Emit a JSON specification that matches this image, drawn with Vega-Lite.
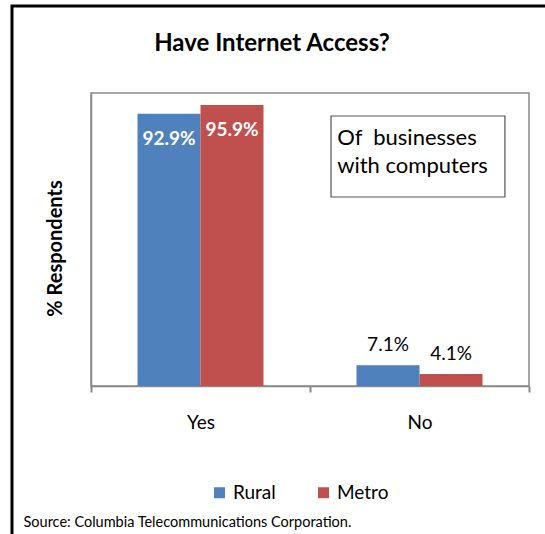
{
  "$schema": "https://vega.github.io/schema/vega-lite/v6.json",
  "autosize": {"type": "none"},
  "padding": {"left": 91, "top": 93, "right": 16, "bottom": 148},
  "width": 438,
  "height": 293,
  "background": "white",
  "config": {
    "font": "Lato",
    "view": {"stroke": "#898989", "strokeWidth": 1.5},
    "axis": {"grid": false}
  },
  "title": {
    "text": "Have Internet Access?",
    "fontSize": 24,
    "fontWeight": "bold",
    "font": "Lato",
    "color": "black",
    "anchor": "middle",
    "baseline": "alphabetic",
    "dx": -38,
    "offset": -71
  },
  "datasets": {
    "bars": [
      {"answer": "Yes", "area": "Rural", "share": 0.929},
      {"answer": "Yes", "area": "Metro", "share": 0.959},
      {"answer": "No", "area": "Rural", "share": 0.071},
      {"answer": "No", "area": "Metro", "share": 0.041}
    ],
    "note": [
      {"x1": 0.548, "x2": 0.945, "y1": 0.9215, "y2": 0.645, "tx": 0.562, "ty": 0.846, "label": "Of\u00a0 businesses\nwith computers"}
    ],
    "frame": [
      {"x1": -0.1804, "x2": 1.2, "y1": 1.297, "y2": -0.7}
    ]
  },
  "resolve": {"scale": {"x": "independent"}},
  "layer": [
    {
      "data": {"name": "bars"},
      "mark": {"type": "bar"},
      "encoding": {
        "x": {
          "field": "answer", "type": "nominal", "sort": ["Yes", "No"],
          "scale": {"domain": ["Yes", "No"], "paddingInner": 0, "paddingOuter": 0},
          "axis": {
            "title": "Source: Columbia Telecommunications Corporation.",
            "titleFontSize": 14.5, "titleFontWeight": "normal", "titleColor": "black",
            "titleAnchor": "start", "titleAlign": "left", "titleBaseline": "middle",
            "titleX": -68, "titleY": 136,
            "labelAngle": 0, "labelFontSize": 19, "labelColor": "black", "labelPadding": 21,
            "domainColor": "#898989", "domainWidth": 1.5,
            "tickBand": "extent", "tickSize": 6, "tickColor": "#898989", "tickWidth": 2
          }
        },
        "xOffset": {"field": "area", "type": "nominal", "scale": {"domain": ["Rural", "Metro"], "paddingInner": 0, "paddingOuter": 0.738}},
        "y": {
          "field": "share", "type": "quantitative",
          "scale": {"domain": [0, 1], "nice": false},
          "axis": {
            "title": "% Respondents", "titleFontSize": 20, "titleFontWeight": "bold", "titleColor": "black",
            "titlePadding": 26, "titleY": 155,
            "labels": false, "ticks": false, "domainColor": "#898989", "domainWidth": 1.5
          }
        },
        "color": {
          "field": "area", "type": "nominal",
          "scale": {"domain": ["Rural", "Metro"], "range": ["#4F81BD", "#C0504D"]},
          "legend": {
            "title": null, "orient": "none", "direction": "horizontal",
            "legendX": 119, "legendY": 390,
            "symbolType": "square", "symbolSize": 121, "symbolStrokeWidth": 0, "symbolOpacity": 1,
            "labelFontSize": 19, "labelColor": "black", "labelOffset": 4, "columnPadding": 38
          }
        }
      }
    },
    {
      "data": {"name": "bars"},
      "transform": [{"filter": "datum.answer === 'Yes'"}],
      "mark": {"type": "text", "color": "white", "fontWeight": "bold", "fontSize": 19, "baseline": "middle", "dy": 25},
      "encoding": {
        "x": {"field": "answer", "type": "nominal", "scale": {"domain": ["Yes", "No"], "paddingInner": 0, "paddingOuter": 0}, "axis": null},
        "xOffset": {"field": "area", "type": "nominal", "scale": {"domain": ["Rural", "Metro"], "paddingInner": 0, "paddingOuter": 0.738}},
        "y": {"field": "share", "type": "quantitative", "scale": {"domain": [0, 1], "nice": false}},
        "text": {"field": "share", "type": "quantitative", "format": ".1%"}
      }
    },
    {
      "data": {"name": "bars"},
      "transform": [{"filter": "datum.answer === 'No'"}],
      "mark": {"type": "text", "color": "black", "fontSize": 19, "baseline": "middle", "dy": -20},
      "encoding": {
        "x": {"field": "answer", "type": "nominal", "scale": {"domain": ["Yes", "No"], "paddingInner": 0, "paddingOuter": 0}, "axis": null},
        "xOffset": {"field": "area", "type": "nominal", "scale": {"domain": ["Rural", "Metro"], "paddingInner": 0, "paddingOuter": 0.738}},
        "y": {"field": "share", "type": "quantitative", "scale": {"domain": [0, 1], "nice": false}},
        "text": {"field": "share", "type": "quantitative", "format": ".1%"}
      }
    },
    {
      "data": {"name": "note"},
      "mark": {"type": "rect", "fill": "white", "stroke": "#555555", "strokeWidth": 1.2},
      "encoding": {
        "x": {"field": "x1", "type": "quantitative", "scale": {"domain": [0, 1], "nice": false}, "axis": null},
        "x2": {"field": "x2"},
        "y": {"field": "y1", "type": "quantitative", "scale": {"domain": [0, 1], "nice": false}},
        "y2": {"field": "y2"}
      }
    },
    {
      "data": {"name": "note"},
      "mark": {"type": "text", "align": "left", "baseline": "middle", "fontSize": 22, "lineHeight": 28, "lineBreak": "\n", "color": "black"},
      "encoding": {
        "x": {"field": "tx", "type": "quantitative", "scale": {"domain": [0, 1], "nice": false}, "axis": null},
        "y": {"field": "ty", "type": "quantitative", "scale": {"domain": [0, 1], "nice": false}},
        "text": {"field": "label"}
      }
    },
    {
      "data": {"name": "frame"},
      "mark": {"type": "rect", "fill": null, "fillOpacity": 0, "stroke": "black", "strokeWidth": 3, "clip": false},
      "encoding": {
        "x": {"field": "x1", "type": "quantitative", "scale": {"domain": [0, 1], "nice": false, "zero": false}, "axis": null},
        "x2": {"field": "x2"},
        "y": {"field": "y1", "type": "quantitative", "scale": {"domain": [0, 1], "nice": false}},
        "y2": {"field": "y2"}
      }
    }
  ]
}
